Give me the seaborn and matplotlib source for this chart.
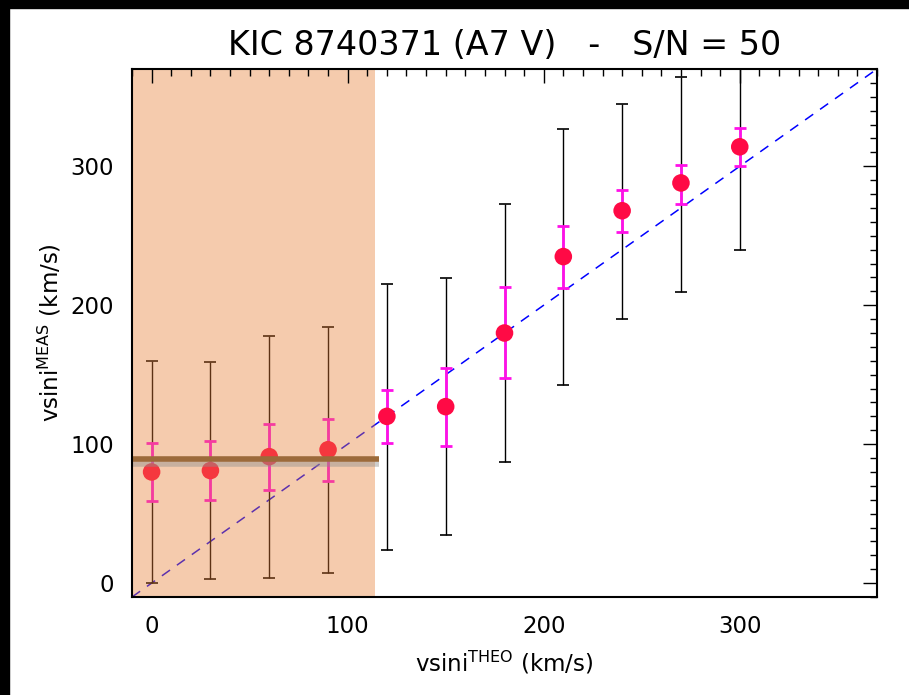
import matplotlib

matplotlib.use("Agg")
import matplotlib.patheffects as pe
import matplotlib.pyplot as plt
import numpy as np
import pandas as pd
import seaborn as sns
from matplotlib.patches import Rectangle
from matplotlib.ticker import MultipleLocator

# theoretical vs measured vsini (km/s)
vsini_theo = [0, 30, 60, 90, 120, 150, 180, 210, 240, 270, 300]
vsini_meas = [80, 81, 91, 96, 120, 127, 180, 235, 268, 288, 314]
# magenta (inner) error bar limits
mag_lo = [59, 59.5, 67, 73.5, 100.6, 99, 147.5, 212.5, 252.5, 273, 300.5]
mag_hi = [100.6, 102.5, 114.5, 118, 138.7, 154.6, 213, 257, 283, 301, 327.5]
# black (outer) error bar limits
blk_lo = [0, 2.7, 3.6, 7.2, 23.8, 34.3, 87, 142.6, 190, 209.5, 240]
blk_hi = [160, 159, 178, 184, 215.5, 219.6, 273, 326.6, 345, 364.3, 386]

shade_limit = 114
mean_level = 89
mean_line_end = 116
axis_range = (-10, 370)

title = "KIC 8740371 (A7 V)   -   S/N = 50"
xlabel = r"vsini$^{\mathregular{THEO}}$ (km/s)"
ylabel = r"vsini$^{\mathregular{MEAS}}$ (km/s)"

sns.set_style("white")
plt.rcParams.update({
    "font.family": ["DejaVu Sans"],
    "mathtext.default": "regular",
    "text.color": "black",
    "axes.labelcolor": "black",
    "xtick.color": "black",
    "ytick.color": "black",
})

df = pd.DataFrame({"theo": vsini_theo, "meas": vsini_meas})
y = np.array(vsini_meas)

fig = plt.figure(figsize=(9.09, 6.95), dpi=100)
ax = fig.add_axes([132 / 909, 1 - 597 / 695, (877 - 132) / 909, (597 - 69) / 695])

# one-to-one line
ax.axline((0, 0), slope=1, color="blue", lw=1.1, dashes=(6.5, 5.5), zorder=2)

ax.errorbar(vsini_theo, y, yerr=[y - np.array(blk_lo), np.array(blk_hi) - y],
            fmt="none", ecolor="black", elinewidth=1.0, capsize=4, capthick=1.2, zorder=3)
ax.errorbar(vsini_theo, y, yerr=[y - np.array(mag_lo), np.array(mag_hi) - y],
            fmt="none", ecolor="#ff10e8", elinewidth=2.0, capsize=4, capthick=2.0, zorder=4)
sns.scatterplot(data=df, x="theo", y="meas", ax=ax, color="#ff0a45", s=160,
                edgecolor="none", linewidth=0, zorder=5, legend=False)

ax.axvspan(axis_range[0], shade_limit, color="#e87d34", alpha=0.4, lw=0, zorder=6)
ax.hlines(mean_level, axis_range[0], mean_line_end, color="#9c6a3a", lw=4, zorder=7,
          path_effects=[pe.SimpleLineShadow(offset=(0, -3), shadow_color="#909090", alpha=0.45),
                        pe.Normal()])

ax.set_xlim(axis_range)
ax.set_ylim(axis_range)
ax.xaxis.set_major_locator(MultipleLocator(100))
ax.xaxis.set_minor_locator(MultipleLocator(10))
ax.yaxis.set_major_locator(MultipleLocator(100))
ax.yaxis.set_minor_locator(MultipleLocator(10))
ax.tick_params(which="both", direction="in", top=True, right=True, labelsize=16.5)
ax.tick_params(which="major", length=10, width=1.0, pad=13)
ax.tick_params(which="minor", length=5, width=1.0)
ax.xaxis.set_zorder(8)
ax.yaxis.set_zorder(8)
for s in ax.spines.values():
    s.set_linewidth(1.5)
    s.set_color("black")
    s.set_zorder(8)

ax.set_xlabel(xlabel, fontsize=16.5, labelpad=8)
ax.set_ylabel(ylabel, fontsize=16.5, labelpad=5)
ax.set_title(title, fontsize=24, pad=10)

# black frame strips on top and left edges of the image
fig.patches.append(Rectangle((0, 1 - 8 / 695), 1, 8 / 695, transform=fig.transFigure,
                             color="black", zorder=10))
fig.patches.append(Rectangle((0, 0), 9 / 909, 1, transform=fig.transFigure,
                             color="black", zorder=10))

fig.savefig("out.png", dpi=100)
